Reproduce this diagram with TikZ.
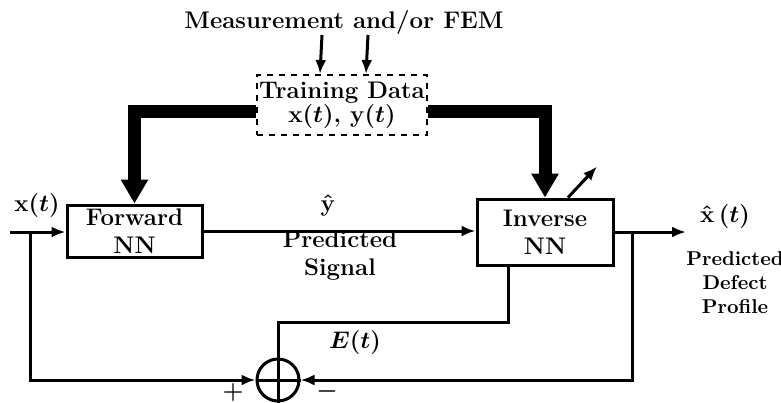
\documentclass[tikz,border=0pt]{standalone}
\usepackage{amsmath}
\usepackage{tikz}
\usetikzlibrary{
  arrows.meta,
  positioning,
  calc
}
\definecolor{linecolor}{RGB}{0, 0, 0}
\definecolor{labelcolor}{RGB}{0, 0, 0}
\tikzset{
blocktext/.style={
  align=center,
  font=\bfseries\boldmath\large,
  text=labelcolor
},
nnblock/.style={
  draw=linecolor,
  line width=1.5pt,
  inner sep=0pt,
  minimum height=26pt,
  minimum width=67.5pt,
  blocktext
},
datablock/.style={
  draw=linecolor,
  dashed,
  line width=1pt,
  inner sep=0pt,
  minimum height=30pt,
  minimum width=85pt,
  blocktext
},
sumnode/.style={
  circle,
  draw=linecolor,
  line width=1.5pt,
  minimum size=21pt,
  inner sep=0pt
},
titlelabel/.style={
  font=\bfseries\large,
  text=labelcolor,
  align=center
},
sublabel/.style={
  font=\bfseries\boldmath\large,
  text=labelcolor,
  align=center,
  inner sep=1pt
},
arrow/.style={
  -{Latex[length=7pt,width=5.5pt]},
  line width=1.5pt,
  draw=linecolor
},
line/.style={
  line width=1.5pt,
  draw=linecolor
},
thickarrow/.style={
  -{Triangle[length=12pt,width=13pt]},
  line width=6.5pt,
  draw=linecolor
}
}

\begin{document}
\begin{tikzpicture}[x=0.5pt, y=-0.5pt]
  \useasboundingbox (0,0) rectangle (781,402);

  % blocks
  \node[titlelabel] (meas) at (344,22) {Measurement and/or FEM};
  \node[datablock] (data) at (342,105) {Training Data\\[-2pt] $\mathbf{x}(t)$, $\mathbf{y}(t)$};
  \node[nnblock] (fwd) at (134.5,231) {Forward\\ NN};
  \node[nnblock, minimum height=33pt, minimum width=68pt] (inv) at (545,232) {Inverse\\ NN};
  \node[sumnode] (sum) at (278,380) {};
  \draw[line] (sum.north) -- (sum.south);
  \draw[line] (sum.west) -- (sum.east);

  % free ends
  \coordinate (xin) at (10,232);
  \coordinate (tap1) at (30,232);
  \coordinate (xout) at (686,232);
  \coordinate (tap2) at (632,232);
  \coordinate (eout) at ([xshift=-18.5pt]inv.south);

  % measurement inputs
  \draw[arrow] ([xshift=-11pt]meas.south |- 0,35) -- ([xshift=-11pt]data.north);
  \draw[arrow] ([xshift=12pt]meas.south |- 0,35) -- ([xshift=12pt]data.north);

  % training data
  \draw[thickarrow] ([yshift=-3pt]data.west) -| (fwd.north);
  \draw[thickarrow] ([yshift=-3pt]data.east) -| (inv.north);
  \draw[arrow] ([xshift=11.5pt]inv.north) -- ++(29,-31);

  % signal path
  \draw[arrow] (xin) -- (xin -| fwd.west);
  \draw[arrow] (fwd.east) -- (fwd.east -| inv.west);
  \draw[arrow] (inv.east |- xout) -- (xout);

  % error loop
  \draw[arrow] (tap1) |- (sum.west);
  \draw[arrow] (tap2) |- (sum.east);
  \draw[line] (eout) -- (eout |- 0,322) -| (sum.north);

  % labels
  \node[sublabel] (xlbl) at (37,205) {$\mathbf{x}(t)$};
  \node[sublabel] (yhat) at (328,205) {$\hat{\mathbf{y}}$};
  \node[sublabel] (ylbl) at (340,256) {Predicted\\ Signal};
  \node[sublabel] (xhat) at (725,216) {$\hat{\mathbf{x}}\,(t)$};
  \node[sublabel, font=\bfseries\normalsize, inner sep=0pt] (xhatlbl) at (735,283) {Predicted\\ Defect\\ Profile};
  \node[sublabel] (elbl) at (355,342) {$E(t)$};
  \node[sublabel] (plus) at (233,392) {$+$};
  \node[sublabel] (minus) at (327,391) {$-$};
\end{tikzpicture}
\end{document}
